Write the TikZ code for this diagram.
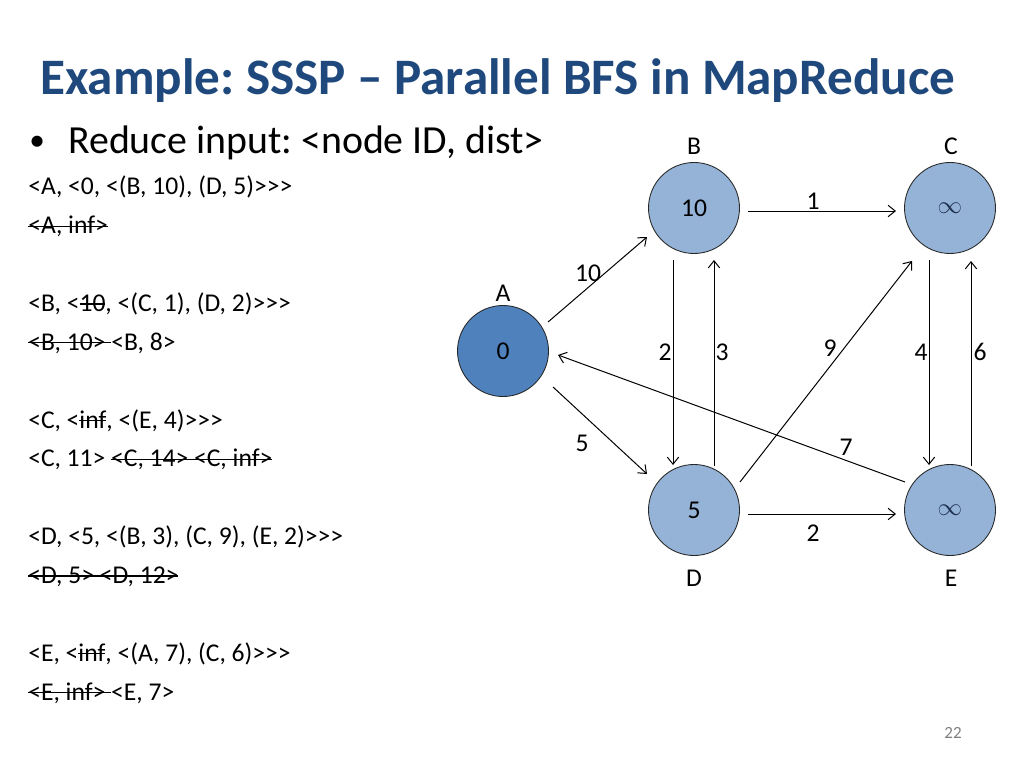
\documentclass[tikz,border=0pt]{standalone}
\usepackage{fontspec}
\setmainfont{Carlito}[Ligatures=TeXOff]
\usetikzlibrary{arrows.meta,calc}
\definecolor{titleblue}{HTML}{1F497D}
\definecolor{nodedark}{HTML}{4F81BD}
\definecolor{nodelight}{HTML}{95B3D7}
\definecolor{infcol}{HTML}{1F3050}
\newcommand\mystrike[1]{\setbox0\hbox{#1}\rlap{\rule[0.27em]{\wd0}{0.055em}}\box0}
\frenchspacing
\begin{document}
\begin{tikzpicture}[x=0.703125pt,y=-0.703125pt,
  vert/.style={circle,draw=black!85,line width=0.6pt,minimum size=64pt,inner sep=0pt,
    font=\fontsize{18}{20}\selectfont},
  vlight/.style={vert,fill=nodelight},
  vdark/.style={vert,fill=nodedark},
  vname/.style={font=\fontsize{18}{20}\selectfont,inner sep=0pt},
  wlabel/.style={font=\fontsize{18}{20}\selectfont,inner sep=0pt},
  edge/.style={line width=0.7pt,-{Straight Barb[length=5pt,width=8pt,line width=0.7pt]}},
  txt/.style={anchor=base west,inner sep=0pt,font=\fontsize{18}{20}\selectfont}]
\useasboundingbox (0,0) rectangle (1024,768);
\fill[white] (0,0) rectangle (1024,768);

% title
\node[anchor=base west,inner sep=0pt,text=titleblue,font=\fontsize{35.95}{40}\selectfont\bfseries] (title) at (40,95) {Example: SSSP – Parallel BFS in MapReduce};
% bullet
\node[anchor=base west,inner sep=0pt,font=\fontsize{22}{24}\selectfont] (bul) at (29,151) {•};
\node[anchor=base west,inner sep=0pt,font=\fontsize{28}{32}\selectfont] (bultxt) at (68,154) {Reduce input: <node ID, dist>};

% left text lines
\node[txt] (l1) at (28,{195+38.85*0}) {<A, <0, <(B, 10), (D, 5)>>>};
\node[txt] (l2) at (28,{195+38.85*1}) {\mystrike{<A, inf>}};
\node[txt] (l3) at (28,{195+38.85*3}) {<B, <\mystrike{10}, <(C, 1), (D, 2)>>>};
\node[txt] (l4) at (28,{195+38.85*4}) {\mystrike{<B, 10>\ }<B, 8>};
\node[txt] (l5) at (28,{195+38.85*6}) {<C, <\mystrike{inf}, <(E, 4)>>>};
\node[txt] (l6) at (28,{195+38.85*7}) {<C, 11> \mystrike{<C, 14> <C, inf>}};
\node[txt] (l7) at (28,{195+38.85*9}) {<D, <5, <(B, 3), (C, 9), (E, 2)>>>};
\node[txt] (l8) at (28,{195+38.85*10}) {\mystrike{<D, 5> <D, 12>}};
\node[txt] (l9) at (28,{195+38.85*12}) {<E, <\mystrike{inf}, <(A, 7), (C, 6)>>>};
\node[txt] (l10) at (28,{195+38.85*13}) {\mystrike{<E, inf>\ }<E, 7>};

% vertices
\node[vdark] (A) at (503,351) {0};
\node[vlight] (B) at (694,208) {10};
\node[vlight] (C) at (950,208) {\fontsize{16}{16}\selectfont\color{infcol}$\infty$};
\node[vlight] (D) at (694,510) {5};
\node[vlight] (E) at (950,510) {\fontsize{16}{16}\selectfont\color{infcol}$\infty$};

% vertex names
\node[vname] (nA) at (503,293) {A};
\node[vname] (nB) at (694,146) {B};
\node[vname] (nC) at (951,146) {C};
\node[vname] (nD) at (694,578) {D};
\node[vname] (nE) at (951,578) {E};

% edges
\draw[edge] ($(A)+(45,-29)$) -- ($(B)+(-47,29)$);
\draw[edge] ($(A)+(50,36)$) -- ($(D)+(-47,-36)$);
\draw[edge] ($(B)+(54,3)$) -- ($(C)+(-54,3)$);
\draw[edge] ($(D)+(54,4)$) -- ($(E)+(-54,4)$);
\draw[edge] ($(B)+(-21,52)$) -- ($(D)+(-21,-45)$);
\draw[edge] ($(D)+(20,-44)$) -- ($(B)+(20,52)$);
\draw[edge] ($(D)+(46,-28)$) -- ($(C)+(-38,53)$);
\draw[edge] ($(C)+(-21,52)$) -- ($(E)+(-21,-45)$);
\draw[edge] ($(E)+(21,-44)$) -- ($(C)+(21,53)$);
\draw[edge] ($(E)+(-45,-28)$) -- ($(A)+(55,4)$);

% edge weights
\node[wlabel] (wAB) at (588,273) {10};
\node[wlabel] (wAD) at (582,443) {5};
\node[wlabel] (wBC) at (813,201) {1};
\node[wlabel] (wDE) at (813,533) {2};
\node[wlabel] (wBD) at (665,352) {2};
\node[wlabel] (wDB) at (722,352) {3};
\node[wlabel] (wDC) at (830,348) {9};
\node[wlabel] (wCE) at (921,352) {4};
\node[wlabel] (wEC) at (980,352) {6};
\node[wlabel] (wEA) at (846,447) {7};

% page number
\node[inner sep=0pt,text=black!50,font=\fontsize{12}{14}\selectfont] (pg) at (953,733) {22};
\end{tikzpicture}
\end{document}
